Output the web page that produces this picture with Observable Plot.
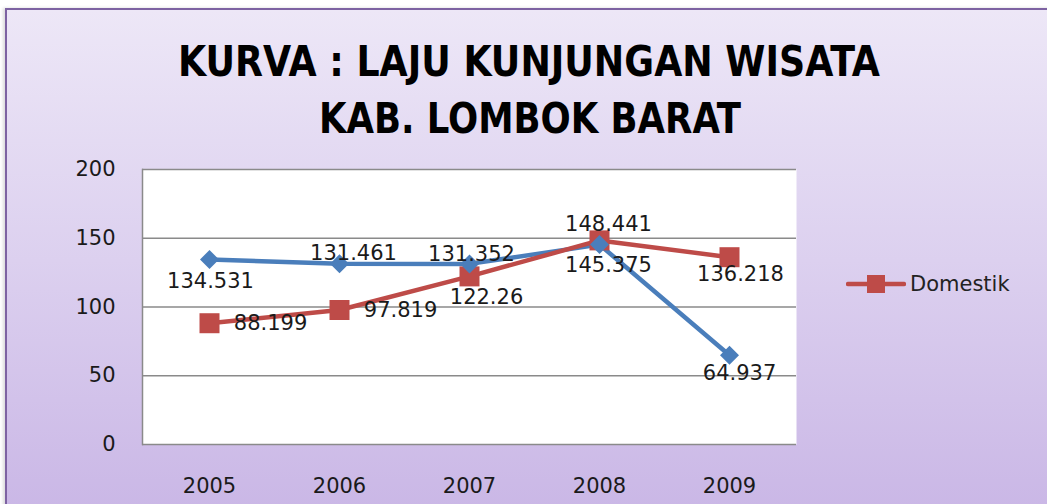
<!DOCTYPE html>
<html>
<head>
<meta charset="utf-8">
<script src="https://cdn.jsdelivr.net/npm/d3@7"></script>
<script src="https://cdn.jsdelivr.net/npm/@observablehq/plot@0.6"></script>
<style>
  html, body { margin: 0; padding: 0; background: #fff; }
  #wrap { position: relative; width: 1047px; height: 504px; overflow: hidden; background: #fff; }
  #panel { position: absolute; left: 5px; top: 8px; width: 1100px; height: 600px;
    border: 2.5px solid #7d62a2; box-sizing: border-box;
    background: linear-gradient(to bottom, #ede7f7 0px, #dcd0ef 250px, #cab7e6 500px, #c8b4e5 600px);
    box-shadow: -2px 0 3px rgba(0,0,0,0.15); }
  #title { position: absolute; left: 0; top: 0; }
  #chart { position: absolute; left: 0; top: 150px; }
  #legend { position: absolute; left: 846px; top: 271px; display: flex; align-items: center;
    font-family: "DejaVu Sans", sans-serif; font-size: 21px; color: #222; }
  #legend span { margin-left: 4px; }
</style>
</head>
<body>
<div id="wrap">
  <div id="panel"></div>
  <svg id="title" width="1047" height="150" font-family="'DejaVu Sans Condensed', 'DejaVu Sans', sans-serif" font-weight="bold" font-size="42" fill="#000">
    <text id="t1" x="178" y="76" textLength="702" lengthAdjust="spacingAndGlyphs">KURVA : LAJU KUNJUNGAN WISATA</text>
    <text id="t2" x="319" y="133" textLength="422" lengthAdjust="spacingAndGlyphs">KAB. LOMBOK BARAT</text>
  </svg>
  <div id="chart"></div>
  <div id="legend">
    <svg width="60" height="26"><line x1="2" y1="13" x2="58" y2="13" stroke="#be4b48" stroke-width="4.5" stroke-linecap="round"/><rect x="21" y="4" width="18" height="18" fill="#be4b48"/></svg>
    <span>Domestik</span>
  </div>
</div>
<script>
// ---- data ----
const years = ["2005", "2006", "2007", "2008", "2009"];
const blueValues = [134.531, 131.461, 131.352, 145.375, 64.937];
const domestikValues = [88.199, 97.819, 122.26, 148.441, 136.218];
const yTicks = [0, 50, 100, 150, 200];
const legendLabel = "Domestik";

// ---- label placement (styling only) ----
const blueLabelOffsets = [[1, 22], [14, -10], [2, -10], [9, 21], [10, 18]];
const domLabelOffsets = [[61, 0], [61, 0], [17, 21], [9, -16], [11, 17]];

const blueColor = "#4a7ebb";
const redColor = "#be4b48";

const blueData = years.map((y, i) => ({year: y, value: blueValues[i]}));
const domData = years.map((y, i) => ({year: y, value: domestikValues[i]}));

const diamond = {
  draw(ctx, size) {
    const h = Math.sqrt(size / Math.PI);
    ctx.moveTo(0, -h); ctx.lineTo(h, 0); ctx.lineTo(0, h); ctx.lineTo(-h, 0); ctx.closePath();
  }
};
const square = {
  draw(ctx, size) {
    const h = Math.sqrt(size / Math.PI);
    ctx.rect(-h, -h, 2 * h, 2 * h);
  }
};

const labelMarks = (data, offsets) => data.map((d, i) =>
  Plot.text([d], {x: "year", y: "value", text: d => String(d.value),
    dx: offsets[i][0], dy: offsets[i][1], fill: "#1a1a1a", fontSize: 21, textAnchor: "middle"}));

const chart = Plot.plot({
  width: 1047,
  height: 354,
  marginLeft: 142,
  marginRight: 251,
  marginTop: 19,
  marginBottom: 60,
  style: {background: "transparent", fontFamily: "'DejaVu Sans', sans-serif", fontSize: "21px", color: "#1a1a1a", overflow: "visible"},
  x: {type: "point", domain: years, padding: 0.5, label: null},
  y: {domain: [0, 200], label: null},
  marks: [
    Plot.frame({fill: "white", stroke: null}),
    Plot.ruleY(yTicks, {stroke: "#8a8a8a", strokeWidth: 1.5}),
    Plot.frame({anchor: "left", stroke: "#8a8a8a", strokeWidth: 1.5}),
    Plot.axisY({ticks: yTicks, tickSize: 0, tickPadding: 27, fontSize: 21, tickFormat: d => String(d)}),
    Plot.axisX({tickSize: 0, tickPadding: 34, fontSize: 21}),
    Plot.line(blueData, {x: "year", y: "value", stroke: blueColor, strokeWidth: 4.5}),
    Plot.line(domData, {x: "year", y: "value", stroke: redColor, strokeWidth: 4.5}),
    Plot.dot(domData, {x: "year", y: "value", symbol: square, r: 10, fill: redColor, stroke: null}),
    Plot.dot(blueData, {x: "year", y: "value", symbol: diamond, r: 9.5, fill: blueColor, stroke: null}),
    ...labelMarks(blueData, blueLabelOffsets),
    ...labelMarks(domData, domLabelOffsets)
  ]
});
document.getElementById("chart").appendChild(chart);
document.querySelector("#legend span").textContent = legendLabel;
</script>
</body>
</html>
